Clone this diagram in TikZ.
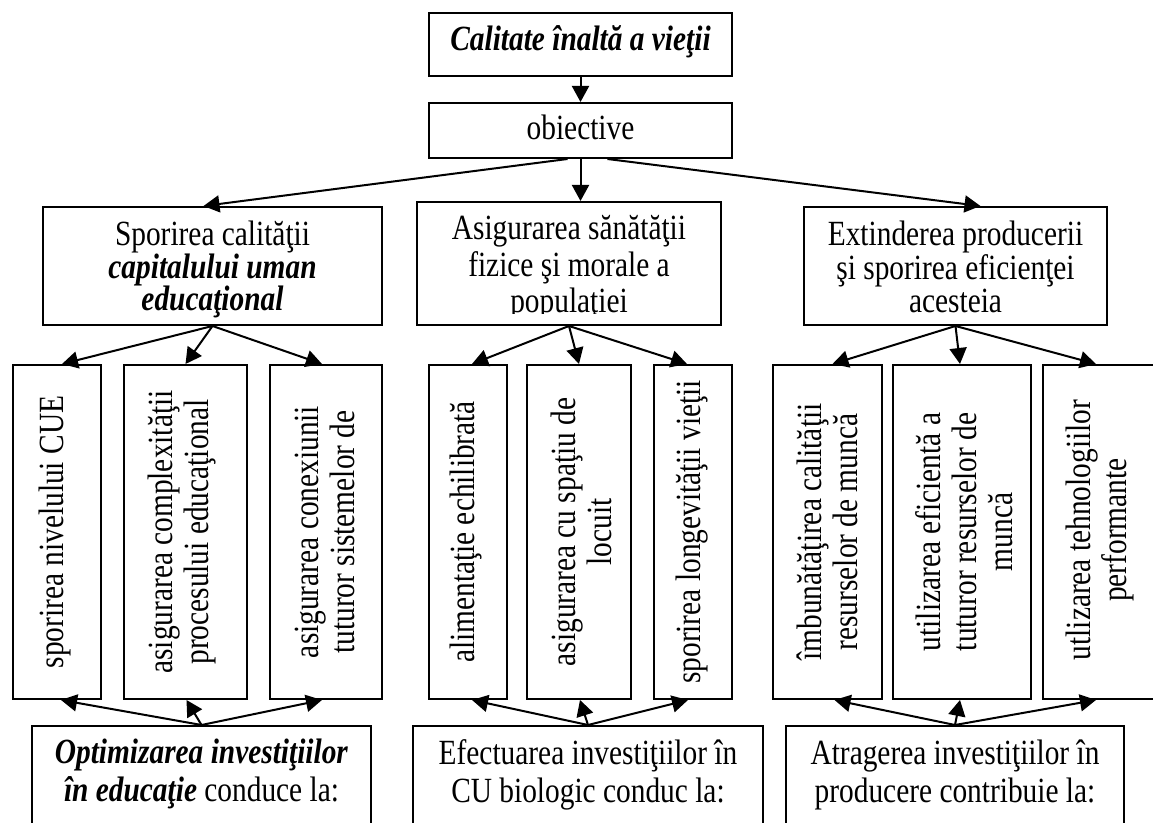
\documentclass[tikz,border=0pt]{standalone}
\usepackage{fontspec}
\setmainfont[FakeStretch=0.83]{Liberation Serif}
\usetikzlibrary{arrows.meta,fit,calc}
\newcommand{\fsz}[1]{\fontsize{17.7pt}{#1}\selectfont\lineskiplimit=-100pt\relax}
\begin{document}
\begin{tikzpicture}[x=0.5pt,y=-0.5pt,
  box/.style={draw, line width=1pt, inner sep=0pt},
  conn/.style={line width=1pt, -{Triangle[length=8pt,width=8.5pt]}},
  txt/.style={inner sep=0pt, align=center, font=\fsz{17pt}},
  vtxt/.style={inner sep=0pt, align=center, rotate=90, font=\fsz{18pt}},
  bi/.style={font=\fsz{17pt}\bfseries\itshape}
]
\useasboundingbox (0,0) rectangle (1153,823);
\clip (0,0) rectangle (1153,823);

% boxes
\node[box, fit={(429,13) (732,76)}] (T) {};
\node[box, fit={(429,103) (732,158)}] (O) {};
\node[box, fit={(43,207) (382,325)}] (L2a) {};
\node[box, fit={(417,202) (721,325)}] (L2b) {};
\node[box, fit={(804,207) (1107,325)}] (L2c) {};

\node[box, fit={(13,365) (101,699)}] (a1) {};
\node[box, fit={(124,365) (247,699)}] (a2) {};
\node[box, fit={(270,365) (382,699)}] (a3) {};
\node[box, fit={(429,365) (507,699)}] (b1) {};
\node[box, fit={(527,365) (631,699)}] (b2) {};
\node[box, fit={(654,365) (732,699)}] (b3) {};
\node[box, fit={(773,365) (882,699)}] (c1) {};
\node[box, fit={(893,365) (1031,699)}] (c2) {};
\node[box, fit={(1043,365) (1170,699)}] (c3) {};

\node[box, fit={(32,726) (371,850)}] (B1) {};
\node[box, fit={(413,726) (763,850)}] (B2) {};
\node[box, fit={(786,726) (1124,850)}] (B3) {};

% texts
\node[txt, bi, anchor=base] (tT) at (580.5,51) {Calitate înaltă a vieţii};
\node[txt, anchor=base] (tO) at (580.5,140) {obiective};

\node[txt, anchor=north, font=\fsz{16.25pt}] (tL2a) at (212.5,221)
  {Sporirea calităţii\\\textbf{\textit{capitalului uman}}\\\textbf{\textit{educaţional}}};
\begin{scope}
\clip (417,202) rectangle (721,314);
\node[txt, anchor=north, font=\fsz{18.25pt}] (tL2b) at (569,215)
  {Asigurarea sănătăţii\\fizice şi morale a\\populaţiei};
\end{scope}
\node[txt, anchor=north, font=\fsz{16.75pt}] (tL2c) at (955.5,221)
  {Extinderea producerii\\şi sporirea eficienţei\\acesteia};

\node[vtxt] (ta1) at (55,532) {sporirea nivelului CUE};
\node[vtxt] (ta2) at (182,532) {asigurarea complexităţii\\procesului educaţional};
\node[vtxt] (ta3) at (325,532) {asigurarea conexiunii\\tuturor sistemelor de};
\node[vtxt] (tb1) at (466,532) {alimentaţie echilibrată};
\node[vtxt] (tb2) at (581,532) {asigurarea cu spaţiu de\\locuit};
\node[vtxt] (tb3) at (692,532) {sporirea longevităţii vieţii};
\node[vtxt] (tc1) at (827,532) {îmbunătăţirea calităţii\\resurselor de muncă};
\node[vtxt] (tc2) at (964,532) {utilizarea eficientă a\\tuturor resurselor de\\muncă};
\node[vtxt] (tc3) at (1100,530) {utlizarea tehnologiilor\\performante};

\node[txt, anchor=north, font=\fsz{19pt}] (tB1) at (201.5,739)
  {\textbf{\textit{Optimizarea investiţiilor}}\\\textbf{\textit{în educaţie}} conduce la:};
\node[txt, anchor=north, font=\fsz{19pt}] (tB2) at (588,739)
  {Efectuarea investiţiilor în\\CU biologic conduc la:};
\node[txt, anchor=north, font=\fsz{19pt}] (tB3) at (955,739)
  {Atragerea investiţiilor în\\producere contribuie la:};

% connectors
\draw[conn] (T.south) -- (O.north);
\draw[conn] ($(O.south)+(-13,0)$) -- ($(L2a.north)+(-9,0)$);
\draw[conn] (O.south) -- (O.south |- L2b.north);
\draw[conn] ($(O.south)+(27,0)$) -- ($(L2c.north)+(25,0)$);

\draw[conn] (L2a.south) -- ($(a1.north)+(5,0)$);
\draw[conn] (L2a.south) -- (a2.north);
\draw[conn] (L2a.south) -- ($(a3.north)+(-4,0)$);
\draw[conn] (L2b.south) -- ($(b1.north)+(4,0)$);
\draw[conn] (L2b.south) -- (b2.north);
\draw[conn] (L2b.south) -- ($(b3.north)+(-6,0)$);
\draw[conn] (L2c.south) -- ($(c1.north)+(5,0)$);
\draw[conn] (L2c.south) -- ($(c2.north)+(-2,0)$);
\draw[conn] (L2c.south) -- ($(c3.north west)+(54,0)$);

\draw[conn] (B1.north) -- ($(a1.south)+(4,0)$);
\draw[conn] (B1.north) -- ($(a2.south)+(1,0)$);
\draw[conn] (B1.north) -- ($(a3.south)+(-4,0)$);
\draw[conn] (B2.north) -- ($(b1.south)+(4,0)$);
\draw[conn] (B2.north) -- ($(b2.south)+(1,0)$);
\draw[conn] (B2.north) -- ($(b3.south)+(-5,0)$);
\draw[conn] (B3.north) -- ($(c1.south)+(7,0)$);
\draw[conn] (B3.north) -- ($(c2.south)+(-2,0)$);
\draw[conn] (B3.north) -- ($(c3.south west)+(54,0)$);
\end{tikzpicture}
\end{document}
